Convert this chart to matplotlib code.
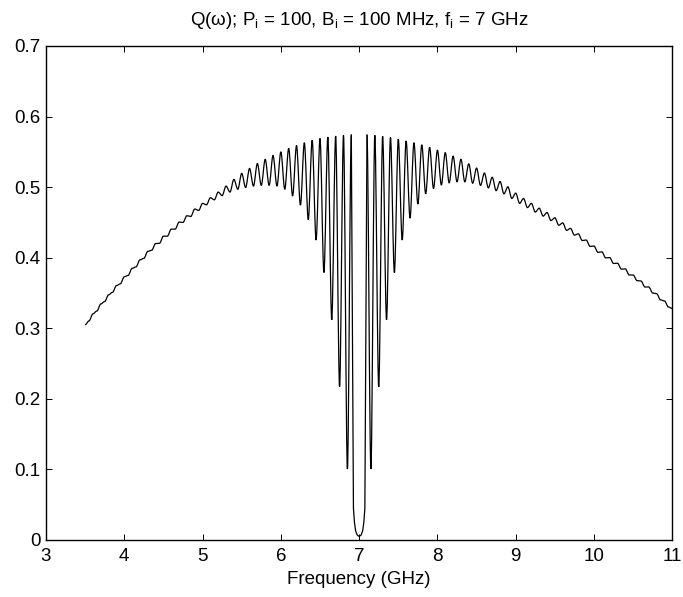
import numpy as np
import matplotlib
matplotlib.use("Agg")
import matplotlib.pyplot as plt
from matplotlib.path import Path
from matplotlib.patches import PathPatch

plt.rcParams['font.family'] = ['Liberation Sans', 'DejaVu Sans']
plt.rcParams['mathtext.fontset'] = 'custom'
plt.rcParams['mathtext.rm'] = 'Liberation Sans'

# extrema of Q (peaks at x.x0, troughs at x.x5)
freq_left = [3.50, 3.55, 3.60, 3.65, 3.70, 3.75, 3.80, 3.85, 3.90, 3.95,
             4.00, 4.05, 4.10, 4.15, 4.20, 4.25, 4.30, 4.35, 4.40, 4.45,
             4.50, 4.55, 4.60, 4.65, 4.70, 4.75, 4.80, 4.85, 4.90, 4.95,
             5.00, 5.05, 5.10, 5.15, 5.20, 5.25, 5.30, 5.35, 5.40, 5.45,
             5.50, 5.55, 5.60, 5.65, 5.70, 5.75, 5.80, 5.85, 5.90, 5.95,
             6.00, 6.05, 6.10, 6.15, 6.20, 6.25, 6.30, 6.35, 6.40, 6.45,
             6.50, 6.55, 6.60, 6.65, 6.70, 6.75, 6.80, 6.85, 6.90]
q_left = [0.3050, 0.3105, 0.3205, 0.3245, 0.3345, 0.3380, 0.3475, 0.3510, 0.3605, 0.3630,
          0.3730, 0.3750, 0.3850, 0.3870, 0.3970, 0.3990, 0.4090, 0.4105, 0.4200, 0.4205,
          0.4305, 0.4305, 0.4405, 0.4405, 0.4505, 0.4500, 0.4595, 0.4585, 0.4690, 0.4670,
          0.4770, 0.4750, 0.4850, 0.4820, 0.4930, 0.4880, 0.5015, 0.4930, 0.5110, 0.4970,
          0.5195, 0.4995, 0.5265, 0.5015, 0.5335, 0.5025, 0.5395, 0.5025, 0.5450, 0.5015,
          0.5500, 0.4970, 0.5550, 0.4875, 0.5590, 0.4745, 0.5630, 0.4540, 0.5665, 0.4250,
          0.5690, 0.3790, 0.5710, 0.3120, 0.5725, 0.2170, 0.5735, 0.1005, 0.5740]

# the wide notch at f_i = 7 GHz (between the peaks at 6.9 and 7.1)
freq_dip = [6.90, 6.927, 6.940, 6.955, 6.975, 7.000, 7.025, 7.045, 7.060, 7.073, 7.10]
q_dip = [0.574, 0.045, 0.025, 0.013, 0.007, 0.005, 0.007, 0.013, 0.025, 0.045, 0.574]

freq_right = [7.10, 7.15, 7.20, 7.25, 7.30, 7.35, 7.40, 7.45, 7.50, 7.55,
              7.60, 7.65, 7.70, 7.75, 7.80, 7.85, 7.90, 7.95, 8.00, 8.05,
              8.10, 8.15, 8.20, 8.25, 8.30, 8.35, 8.40, 8.45, 8.50, 8.55,
              8.60, 8.65, 8.70, 8.75, 8.80, 8.85, 8.90, 8.95, 9.00, 9.05,
              9.10, 9.15, 9.20, 9.25, 9.30, 9.35, 9.40, 9.45, 9.50, 9.55,
              9.60, 9.65, 9.70, 9.75, 9.80, 9.85, 9.90, 9.95, 10.00, 10.05,
              10.10, 10.15, 10.20, 10.25, 10.30, 10.35, 10.40, 10.45, 10.50, 10.55,
              10.60, 10.65, 10.70, 10.75, 10.80, 10.85, 10.90, 10.95, 11.00]
q_right = [0.5740, 0.1005, 0.5735, 0.2170, 0.5720, 0.3120, 0.5705, 0.3790, 0.5680, 0.4250,
           0.5655, 0.4560, 0.5630, 0.4760, 0.5600, 0.4905, 0.5565, 0.4980, 0.5525, 0.5030,
           0.5490, 0.5060, 0.5440, 0.5075, 0.5395, 0.5075, 0.5330, 0.5055, 0.5270, 0.5025,
           0.5200, 0.4990, 0.5140, 0.4950, 0.5080, 0.4905, 0.5005, 0.4840, 0.4915, 0.4770,
           0.4840, 0.4710, 0.4770, 0.4647, 0.4702, 0.4590, 0.4640, 0.4527, 0.4566, 0.4460,
           0.4493, 0.4388, 0.4415, 0.4320, 0.4338, 0.4243, 0.4251, 0.4160, 0.4165, 0.4076,
           0.4083, 0.3997, 0.4002, 0.3918, 0.3922, 0.3838, 0.3842, 0.3755, 0.3755, 0.3675,
           0.3670, 0.3585, 0.3585, 0.3500, 0.3490, 0.3402, 0.3388, 0.3302, 0.3280]

xticks = [3, 4, 5, 6, 7, 8, 9, 10, 11]
yticks = [0, 0.1, 0.2, 0.3, 0.4, 0.5, 0.6, 0.7]
yticklabels = ['0', '0.1', '0.2', '0.3', '0.4', '0.5', '0.6', '0.7']


def ripple_path(xs, ys):
    # smooth curve through the extrema, flat tangent at each one
    verts = [(xs[0], ys[0])]
    codes = [Path.MOVETO]
    for i in range(len(xs) - 1):
        dx = xs[i + 1] - xs[i]
        verts += [(xs[i] + dx / 3, ys[i]), (xs[i + 1] - dx / 3, ys[i + 1]),
                  (xs[i + 1], ys[i + 1])]
        codes += [Path.CURVE4] * 3
    return Path(verts, codes)


fig = plt.figure(figsize=(6.83, 5.97), dpi=100)
ax = fig.add_axes([46 / 683, 57 / 597, 626.3 / 683, 494 / 597])

for fx, qy in [(freq_left, q_left), (freq_right, q_right)]:
    ax.add_patch(PathPatch(ripple_path(fx, qy), fill=False, ec='black', lw=0.9))
ax.plot(freq_dip, q_dip, color='black', lw=0.9)

ax.set_xlim(3, 11)
ax.set_ylim(0, 0.7)
ax.set_xticks(xticks)
ax.set_xticklabels([str(t) for t in xticks])
ax.set_yticks(yticks)
ax.set_yticklabels(yticklabels)
ax.tick_params(direction='in', top=True, right=True, length=4, width=0.7,
               labelsize=13.5)
ax.tick_params(axis='x', pad=6)
ax.tick_params(axis='y', pad=4)
for s in ax.spines.values():
    s.set_linewidth(1.0)

ax.set_xlabel('Frequency (GHz)', fontsize=13.5, labelpad=4)
ax.set_title('Q(ω); P$_\\mathrm{i}$ = 100, B$_\\mathrm{i}$ = 100 MHz, f$_\\mathrm{i}$ = 7 GHz',
             fontsize=13.5, pad=15)

fig.savefig('out.png', dpi=100)
